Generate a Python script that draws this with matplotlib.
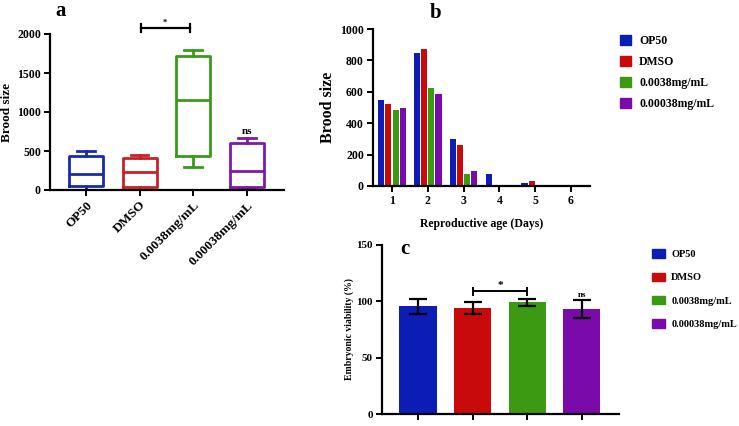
import matplotlib
matplotlib.use("Agg")
import matplotlib.pyplot as plt
from matplotlib.patches import Patch

plt.rcParams['font.family'] = ['Liberation Serif', 'DejaVu Serif']
plt.rcParams['font.weight'] = 'bold'

groups = ['OP50', 'DMSO', '0.0038mg/mL', '0.00038mg/mL']
colors = ['#0b1db5', '#c80a0a', '#3c9a12', '#7a0aaa']
box_colors = ['#1a2aa8', '#c8202a', '#3a9a1a', '#7d1aa6']

# panel a: brood size box plot (min, q1, median, q3, max)
box_min = [0, 0, 300, 20]
box_q1 = [50, 40, 430, 40]
box_med = [210, 225, 1150, 250]
box_q3 = [440, 415, 1720, 600]
box_max = [500, 450, 1800, 670]

# panel b: brood size per day
days = [1, 2, 3, 4, 5, 6]
daily = {
    'OP50': [545, 845, 300, 75, 20, 0],
    'DMSO': [520, 870, 260, 5, 35, 0],
    '0.0038mg/mL': [485, 625, 75, 0, 0, 0],
    '0.00038mg/mL': [495, 585, 95, 0, 0, 0],
}

# panel c: embryonic viability
viability = [95.5, 94, 99, 93]
viability_err = [6.5, 5, 3, 8]

W, H = 739, 426
fig = plt.figure(figsize=(W / 100, H / 100), dpi=100)


def px_axes(x0, x1, ytop, ybot):
    return fig.add_axes([x0 / W, 1 - ybot / H, (x1 - x0) / W, (ybot - ytop) / H])


def style(ax, size=8):
    for s in ['top', 'right']:
        ax.spines[s].set_visible(False)
    for s in ['left', 'bottom']:
        ax.spines[s].set_linewidth(1.6)
    ax.tick_params(width=1.4, length=4, labelsize=size, pad=2.5)
    for lab in ax.get_yticklabels() + ax.get_xticklabels():
        lab.set_fontweight('bold')


# ---- a ----
ax = px_axes(50, 284, 34, 190)
stats = []
for i in range(4):
    stats.append(dict(whislo=box_min[i], q1=box_q1[i], med=box_med[i],
                      q3=box_q3[i], whishi=box_max[i], fliers=[]))
bp = ax.bxp(stats, positions=[1, 2, 3, 4], widths=0.63, capwidths=0.33,
            showfliers=False)
for i, c in enumerate(box_colors):
    for key in ['boxes', 'medians']:
        bp[key][i].set_color(c)
        bp[key][i].set_linewidth(2)
    for key in ['whiskers', 'caps']:
        for j in (2 * i, 2 * i + 1):
            bp[key][j].set_color(c)
            bp[key][j].set_linewidth(2)
ax.set_xlim(0.33, 4.69)
ax.set_ylim(0, 2000)
ax.set_yticks([0, 500, 1000, 1500, 2000])
ax.set_xticks([1, 2, 3, 4])
ax.set_xticklabels(groups, rotation=45, ha='right', rotation_mode='anchor')
ax.set_ylabel('Brood size', fontsize=9.5, fontweight='bold')
ax.yaxis.set_label_coords(-0.16, 0.5)
style(ax, size=8.5)
for lab in ax.get_xticklabels():
    lab.set_fontsize(9.5)
ax.plot([2.02, 2.93], [2077, 2077], color='black', lw=1.6, clip_on=False)
for xx in (2.02, 2.93):
    ax.plot([xx, xx], [2025, 2130], color='black', lw=1.6, clip_on=False)
ax.text(2.47, 2090, '*', ha='center', va='bottom', fontsize=6)
ax.text(4, 690, 'ns', ha='center', va='bottom', fontsize=8)
fig.text(55 / W, 1 - 11 / H, 'a', fontsize=15, fontweight='bold', va='center')

# ---- b ----
ax = px_axes(373, 590, 29, 186)
offsets = [-0.3, -0.1, 0.1, 0.3]
for k, g in enumerate(groups):
    ax.bar([d + offsets[k] for d in days], daily[g], width=0.17, color=colors[k])
ax.set_xlim(0.47, 6.53)
ax.set_ylim(0, 1000)
ax.set_xticks(days)
ax.set_yticks([0, 200, 400, 600, 800, 1000])
ax.set_ylabel('Brood size', fontsize=11.5, fontweight='bold', labelpad=3)
ax.set_xlabel('Reproductive age (Days)', fontsize=8.5, fontweight='bold', labelpad=8)
style(ax, size=8.5)
fig.text(430 / W, 1 - 13 / H, 'b', fontsize=15, fontweight='bold', va='center')
handles = [Patch(color=c) for c in colors]
fig.legend(handles, groups, loc='upper left', bbox_to_anchor=(609 / W, 1 - 24 / H),
           frameon=False, handlelength=0.95, handleheight=0.95,
           handletextpad=0.7, labelspacing=0.75, prop={'weight': 'bold', 'size': 8.5})

# ---- c ----
ax = px_axes(382, 619, 245, 414)
xs = [0, 1, 2, 3]
ax.bar(xs, viability, width=0.68, color=colors)
ax.errorbar(xs, viability, yerr=viability_err, fmt='none', ecolor='black',
            elinewidth=1.6, capsize=6.5, capthick=1.6)
ax.set_xlim(-0.66, 3.68)
ax.set_ylim(0, 150)
ax.set_yticks([0, 50, 100, 150])
ax.set_xticks(xs)
ax.set_xticklabels([])
ax.set_ylabel('Embryonic viability (%)', fontsize=7, fontweight='bold', labelpad=2)
style(ax, size=8)
ax.plot([1, 2], [109, 109], color='black', lw=1.4)
for xx in (1, 2):
    ax.plot([xx, xx], [106, 112], color='black', lw=1.4)
ax.text(1.5, 110, '*', ha='center', va='bottom', fontsize=8)
ax.text(3, 102.5, 'ns', ha='center', va='bottom', fontsize=6.5)
ax.text(-0.33, 146.5, 'c', fontsize=15, fontweight='bold', va='center')
fig.legend(handles, groups, loc='upper left', bbox_to_anchor=(643 / W, 1 - 240 / H),
           frameon=False, handlelength=1.2, handleheight=0.85,
           handletextpad=0.6, labelspacing=1.3, prop={'weight': 'bold', 'size': 7.5})

fig.savefig('out.png', dpi=100)
